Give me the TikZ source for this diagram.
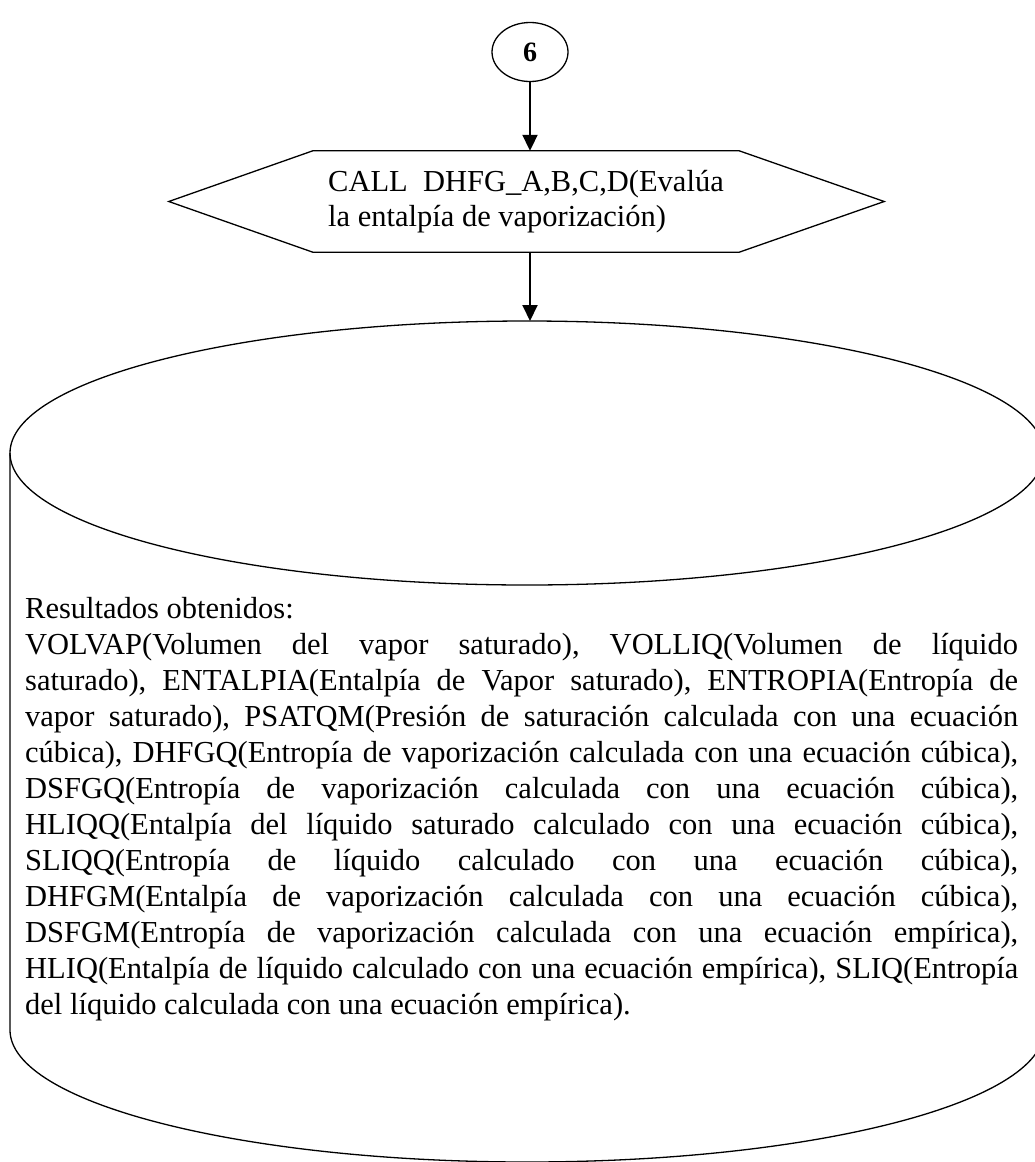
\documentclass[tikz,border=0pt]{standalone}
\usepackage{fontspec}
\setmainfont{Liberation Serif}
\usepackage{tikz}
\usetikzlibrary{arrows.meta,positioning,shapes.geometric,calc}
\frenchspacing

\begin{document}
\begin{tikzpicture}[
  x=1pt,y=-1pt,
  line/.style={draw=black,line width=1.3pt},
  conn/.style={ellipse,draw=black,line width=1.3pt,minimum width=76pt,
            minimum height=59pt,inner sep=0pt,font=\fontsize{28}{32}\selectfont\bfseries},
  hexbody/.style={rectangle,minimum width=426pt,minimum height=101pt,inner sep=0pt,
            align=left,font=\fontsize{30.5}{35.5}\selectfont},
  body/.style={anchor=north west,inner sep=0pt,text width=993pt,align=justify,
            font=\fontsize{30.5}{36}\selectfont},
  arr/.style={-{Triangle[length=16pt,width=15pt]},line width=2pt,draw=black}
]
\useasboundingbox (0,0) rectangle (1035,1162);
\node[conn] (six) at (530,52) {6};
\node[hexbody] (call) at (526,201.5) {CALL\ \ DHFG\_A,B,C,D(Evalúa\\la entalpía de vaporización)};
\draw[line] (call.north west) -- (call.north east) -- ([xshift=145pt]call.east)
  -- (call.south east) -- (call.south west) -- ([xshift=-144pt]call.west) -- cycle;
% data store
\coordinate (db) at (527,453);
\coordinate (dbtop) at (530,321);
\draw[line] (db) ellipse [x radius=517pt,y radius=132pt];
\draw[line] ([xshift=-517pt]db) -- ++(0,577)
  arc[start angle=180,end angle=360,x radius=517pt,y radius=132pt] -- ([xshift=517pt]db);
\node[body] (res) at (25,597) {Resultados obtenidos:\\
VOLVAP(Volumen del vapor saturado), VOLLIQ(Volumen de líquido\linebreak
saturado), ENTALPIA(Entalpía de Vapor saturado), ENTROPIA(Entropía de\linebreak
vapor saturado), PSATQM(Presión de saturación calculada con una ecuación\linebreak
cúbica), DHFGQ(Entropía de vaporización calculada con una ecuación cúbica),\linebreak
DSFGQ(Entropía de vaporización calculada con una ecuación cúbica),\linebreak
HLIQQ(Entalpía del líquido saturado calculado con una ecuación cúbica),\linebreak
SLIQQ(Entropía de líquido calculado con una ecuación cúbica),\linebreak
DHFGM(Entalpía de vaporización calculada con una ecuación cúbica),\linebreak
DSFGM(Entropía de vaporización calculada con una ecuación empírica),\linebreak
HLIQ(Entalpía de líquido calculado con una ecuación empírica), SLIQ(Entropía\linebreak
del líquido calculada con una ecuación empírica).};
\draw[arr] (six.south) -- (six.south |- call.north);
\draw[arr] (call.south -| six) -- (dbtop);
\end{tikzpicture}
\end{document}
